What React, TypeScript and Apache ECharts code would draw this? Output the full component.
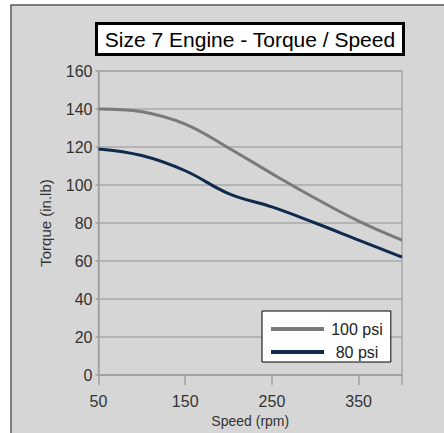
import React, { useEffect, useRef } from "react";
import * as echarts from "echarts";

const speeds = [50, 100, 150, 200, 250, 300, 350, 400];
const torque100 = [140, 138.5, 132, 119.5, 106, 93, 81, 71];
const torque80 = [119, 115.5, 107.5, 95.5, 88.5, 80, 71, 62];
const xLabels = [50, 150, 250, 350];
const xTicks = [50, 150, 250, 350, 400];
const seriesNames = ["100 psi", "80 psi"];

const FONT = "Arial, 'Liberation Sans', sans-serif";

export default function App() {
  const ref = useRef<HTMLDivElement>(null);
  useEffect(() => {
    if (!ref.current) return;
    const chart = echarts.init(ref.current, undefined, { renderer: "svg" });
    const pairs = (ys: number[]) => speeds.map((x, i) => [x, ys[i]]);
    chart.setOption({
      animation: false,
      backgroundColor: "#ffffff",
      textStyle: { fontFamily: FONT },
      graphic: [
        {
          type: "rect",
          z: -10,
          silent: true,
          shape: { x: 11, y: 5, width: 450, height: 450 },
          style: { fill: "#d6d6d6", stroke: "#5a5a5a", lineWidth: 1.5 },
        },
        {
          type: "rect",
          silent: true,
          shape: { x: 96.5, y: 23.5, width: 307, height: 31 },
          style: { fill: "#ffffff", stroke: "#000000", lineWidth: 3 },
        },
        {
          type: "text",
          silent: true,
          x: 250,
          y: 39.5,
          style: {
            text: "Size 7 Engine - Torque / Speed",
            fontSize: 21,
            fontFamily: FONT,
            fill: "#000000",
            align: "center",
            verticalAlign: "middle",
          },
        },
      ],
      grid: {
        left: 98.5,
        right: 42,
        top: 71,
        bottom: 58,
        show: true,
        borderColor: "#a8a8a8",
        borderWidth: 1.5,
        backgroundColor: "transparent",
      },
      legend: {
        data: seriesNames,
        orient: "vertical",
        left: 262,
        top: 311,
        backgroundColor: "#ffffff",
        borderColor: "#000000",
        borderWidth: 1,
        padding: [10, 8, 2, 9],
        itemGap: 7,
        itemWidth: 53,
        itemHeight: 4,
        icon: "rect",
        formatter: "{a|{name}}",
        textStyle: {
          fontSize: 16,
          color: "#222",
          fontFamily: FONT,
          rich: {
            a: {
              width: 56,
              align: "center",
              fontSize: 16,
              color: "#222",
              fontFamily: FONT,
            },
          },
        },
      },
      xAxis: {
        type: "value",
        min: 50,
        max: 400,
        name: "Speed (rpm)",
        nameLocation: "middle",
        nameGap: 37,
        nameTextStyle: { fontSize: 14, color: "#333", fontFamily: FONT },
        axisLine: { show: true, lineStyle: { color: "#a0a0a0", width: 1.5 } },
        axisTick: {
          show: true,
          inside: false,
          length: 10,
          customValues: xTicks,
          lineStyle: { color: "#a0a0a0", width: 1.5 },
        },
        axisLabel: {
          customValues: xLabels,
          fontSize: 16,
          color: "#333",
          margin: 18,
          fontFamily: FONT,
        },
        splitLine: { show: false },
      },
      yAxis: {
        type: "value",
        min: 0,
        max: 160,
        interval: 20,
        name: "Torque (in.lb)",
        nameLocation: "middle",
        nameGap: 46,
        nameTextStyle: { fontSize: 15, color: "#333", fontFamily: FONT },
        axisLine: { show: true, lineStyle: { color: "#a0a0a0", width: 1.5 } },
        axisTick: { show: true, length: 3, lineStyle: { color: "#a0a0a0", width: 1.5 } },
        axisLabel: { fontSize: 16, color: "#333", margin: 6, fontFamily: FONT },
        splitLine: { show: true, lineStyle: { color: "#a8a8a8", width: 1.5 } },
      },
      series: [
        {
          name: seriesNames[0],
          type: "line",
          data: pairs(torque100),
          smooth: 0.4,
          showSymbol: false,
          symbol: "none",
          lineStyle: { color: "#7a7a7a", width: 3 },
          itemStyle: { color: "#7a7a7a" },
        },
        {
          name: seriesNames[1],
          type: "line",
          data: pairs(torque80),
          smooth: 0.4,
          showSymbol: false,
          symbol: "none",
          lineStyle: { color: "#0e2a4c", width: 3 },
          itemStyle: { color: "#0e2a4c" },
        },
      ],
    });
    return () => chart.dispose();
  }, []);
  return (
    <div
      ref={ref}
      style={{ position: "absolute", left: 0, top: 0, width: 444, height: 433 }}
    />
  );
}
